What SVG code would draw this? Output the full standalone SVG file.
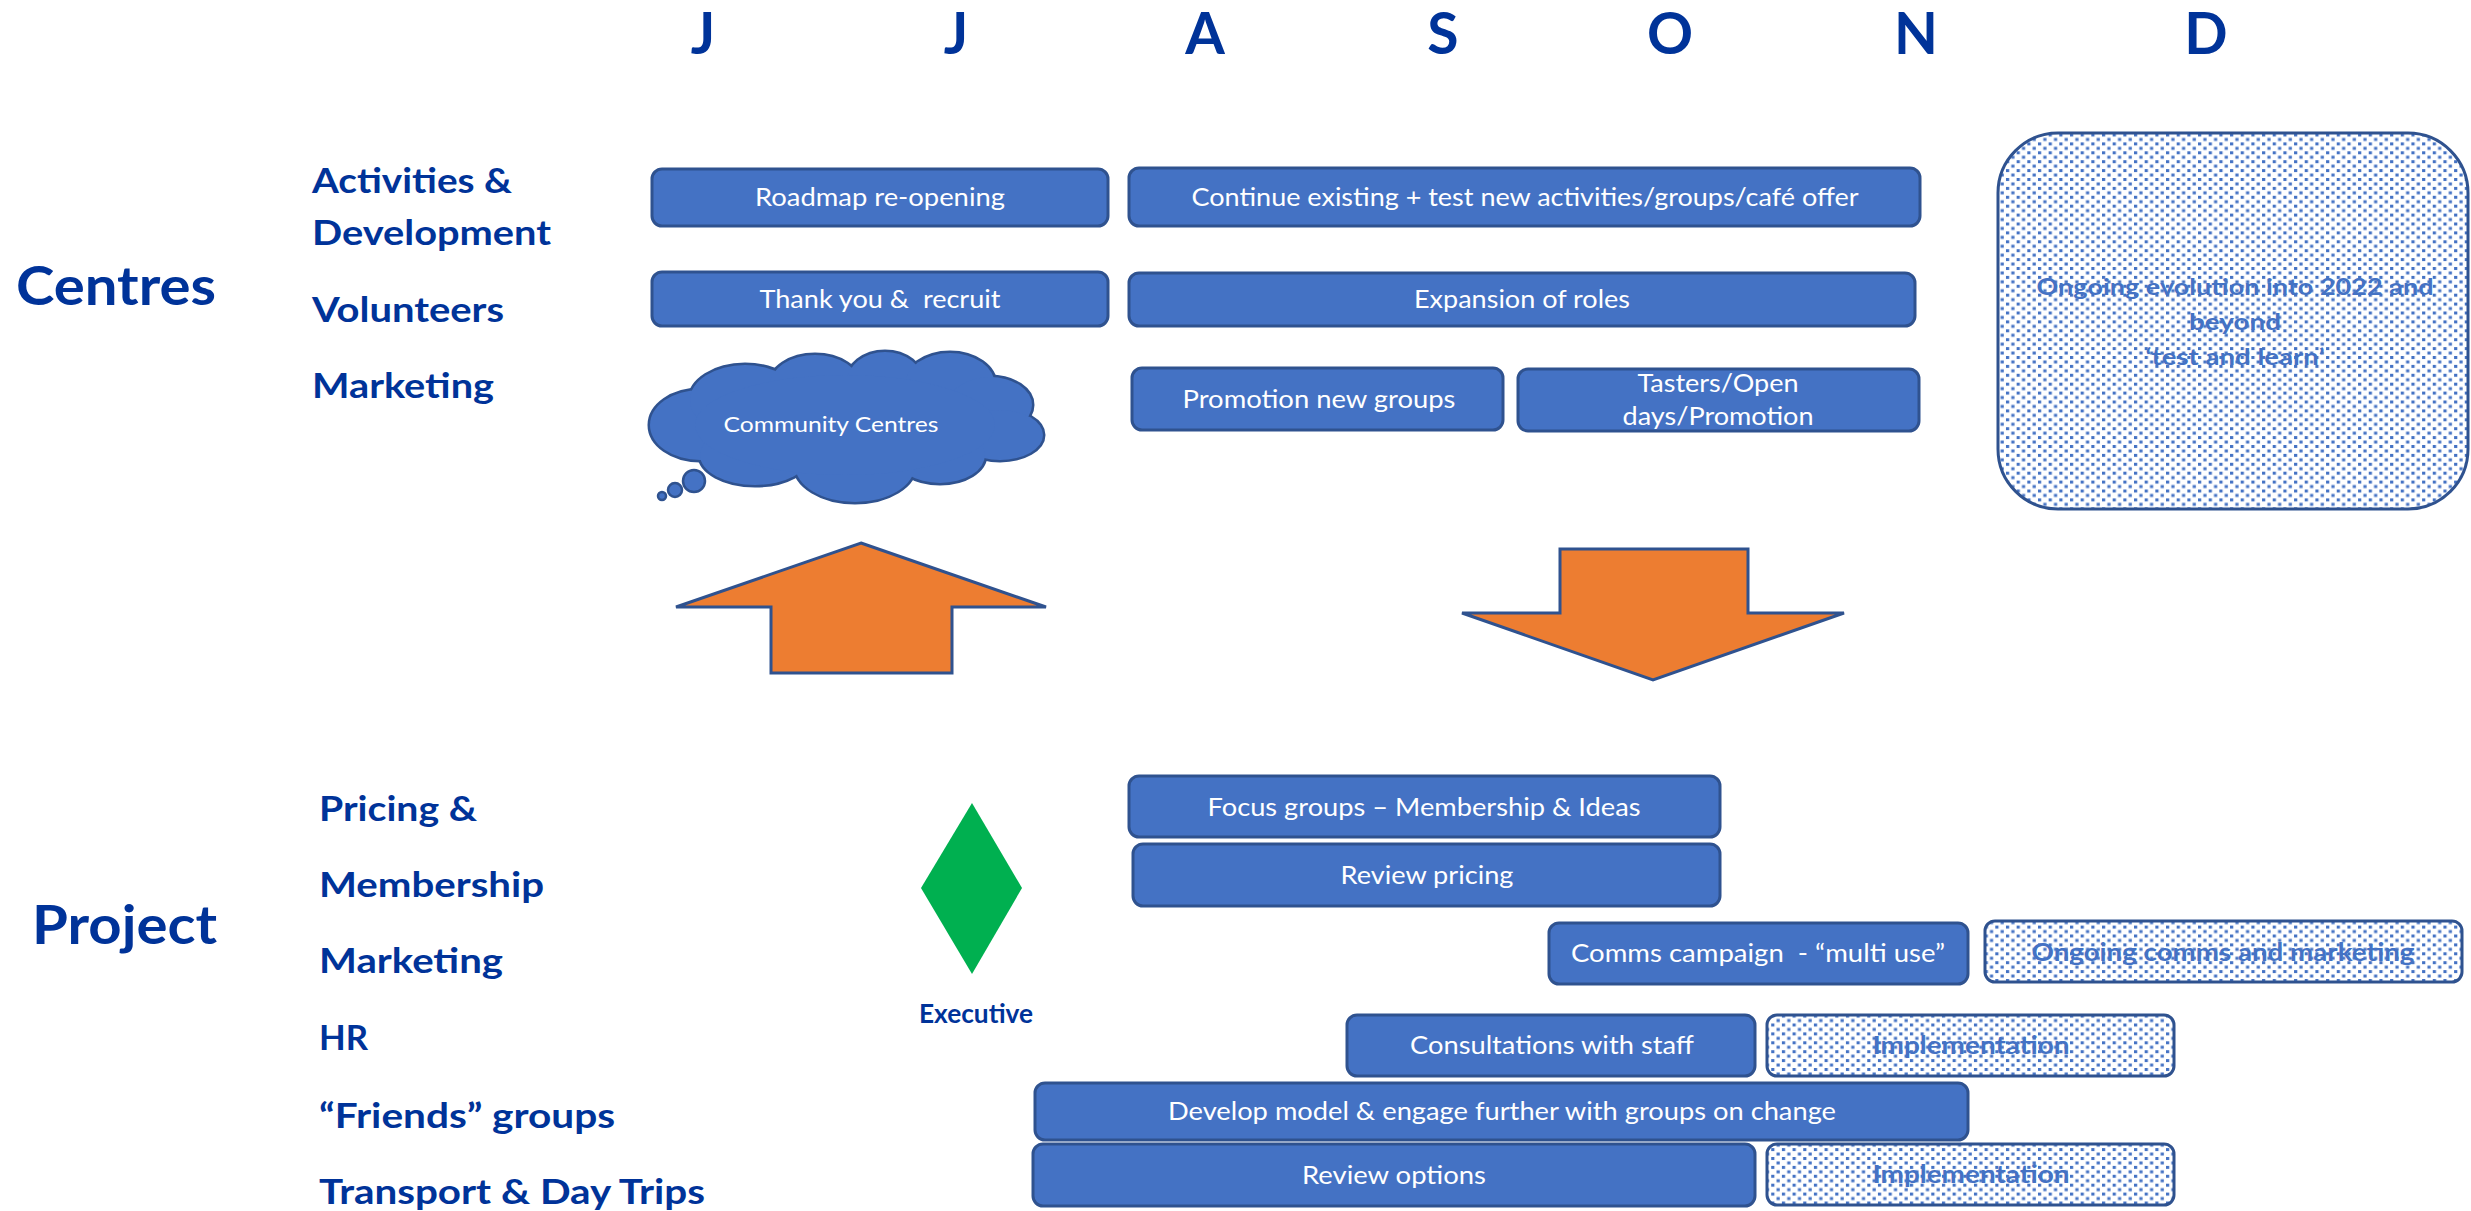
<svg xmlns="http://www.w3.org/2000/svg" width="2471" height="1211" viewBox="0 0 2471 1211">
<style>
.hd{font-family:Lato,"Liberation Sans",sans-serif;font-weight:bold;fill:#003399}
.mo{font-size:57px;text-anchor:middle}
.big{font-size:54px}
.sub{font-size:35px}
.box{fill:#4472C4;stroke:#2F528F;stroke-width:3}
.dot{fill:url(#dots);stroke:#2F528F;stroke-width:3}
.bt{font-family:Lato,"Liberation Sans",sans-serif;font-size:25px;fill:#FFFFFF;text-anchor:middle}
.dt{font-family:Lato,"Liberation Sans",sans-serif;font-size:25px;font-weight:bold;fill:#4472C4;text-anchor:middle}
.arrow{fill:#ED7D31;stroke:#2F528F;stroke-width:3}
</style>
<defs>
<pattern id="dots" patternUnits="userSpaceOnUse" width="10.67" height="8.9">
<rect width="10.67" height="8.9" fill="#FFFFFF"/>
<rect x="0" y="0" width="3.2" height="3" fill="#4472C4"/>
<rect x="5.33" y="4.45" width="3.2" height="3" fill="#4472C4"/>
</pattern>
</defs>
<rect width="2471" height="1211" fill="#FFFFFF"/>

<g id="months" class="hd mo">
<text x="703" y="54">J</text>
<text x="956" y="54">J</text>
<text x="1205" y="54">A</text>
<text x="1443" y="54">S</text>
<text x="1670" y="54">O</text>
<text x="1916" y="54">N</text>
<text x="2206" y="54">D</text>
</g>

<g id="row-labels" class="hd">
<text class="big" x="16" y="305" textLength="200" lengthAdjust="spacingAndGlyphs">Centres</text>
<text class="sub" x="312" y="193" textLength="200" lengthAdjust="spacingAndGlyphs">Activities &amp;</text>
<text class="sub" x="312" y="245" textLength="239" lengthAdjust="spacingAndGlyphs">Development</text>
<text class="sub" x="312" y="322" textLength="192" lengthAdjust="spacingAndGlyphs">Volunteers</text>
<text class="sub" x="312" y="398" textLength="182" lengthAdjust="spacingAndGlyphs">Marketing</text>
<text class="big" x="32" y="944" textLength="185" lengthAdjust="spacingAndGlyphs">Project</text>
<text class="sub" x="319" y="821" textLength="158" lengthAdjust="spacingAndGlyphs">Pricing &amp;</text>
<text class="sub" x="319" y="897" textLength="225" lengthAdjust="spacingAndGlyphs">Membership</text>
<text class="sub" x="319" y="973" textLength="184" lengthAdjust="spacingAndGlyphs">Marketing</text>
<text class="sub" x="319" y="1050" textLength="49" lengthAdjust="spacingAndGlyphs">HR</text>
<text class="sub" x="319" y="1128" textLength="296" lengthAdjust="spacingAndGlyphs">“Friends” groups</text>
<text class="sub" x="319" y="1204" textLength="386" lengthAdjust="spacingAndGlyphs">Transport &amp; Day Trips</text>
</g>

<g id="roadmap">
<rect class="box" x="652" y="169" width="456" height="57" rx="10"/>
<text class="bt" x="880" y="206" textLength="250" lengthAdjust="spacingAndGlyphs">Roadmap re-opening</text>
</g>
<g id="continue">
<rect class="box" x="1129" y="168" width="791" height="58" rx="10"/>
<text class="bt" x="1525" y="206" textLength="667" lengthAdjust="spacingAndGlyphs">Continue existing + test new activities/groups/café offer</text>
</g>
<g id="thankyou">
<rect class="box" x="652" y="272" width="456" height="54" rx="10"/>
<text class="bt" x="880" y="308" textLength="241" lengthAdjust="spacingAndGlyphs" xml:space="preserve">Thank you &amp;  recruit</text>
</g>
<g id="expansion">
<rect class="box" x="1129" y="273" width="786" height="53" rx="10"/>
<text class="bt" x="1522" y="308" textLength="216" lengthAdjust="spacingAndGlyphs">Expansion of roles</text>
</g>
<g id="promotion">
<rect class="box" x="1132" y="368" width="371" height="62" rx="10"/>
<text class="bt" x="1319" y="408" textLength="273" lengthAdjust="spacingAndGlyphs">Promotion new groups</text>
</g>
<g id="tasters">
<rect class="box" x="1518" y="369" width="401" height="62" rx="10"/>
<text class="bt" x="1718" y="392" textLength="161" lengthAdjust="spacingAndGlyphs">Tasters/Open</text>
<text class="bt" x="1718" y="425" textLength="191" lengthAdjust="spacingAndGlyphs">days/Promotion</text>
</g>

<g id="cloud">
<g fill="#2F528F" stroke="#2F528F" stroke-width="5">
<ellipse cx="700" cy="425" rx="50" ry="35"/>
<ellipse cx="745" cy="400" rx="55" ry="35"/>
<ellipse cx="815" cy="385" rx="45" ry="30"/>
<ellipse cx="885" cy="382" rx="38" ry="30"/>
<ellipse cx="950" cy="385" rx="45" ry="32"/>
<ellipse cx="990" cy="405" rx="42" ry="28"/>
<ellipse cx="1000" cy="435" rx="43" ry="25"/>
<ellipse cx="940" cy="455" rx="45" ry="28"/>
<ellipse cx="855" cy="465" rx="60" ry="37"/>
<ellipse cx="755" cy="455" rx="55" ry="30"/>
<ellipse cx="845" cy="425" rx="150" ry="50"/>
</g>
<g fill="#4472C4">
<ellipse cx="700" cy="425" rx="50" ry="35"/>
<ellipse cx="745" cy="400" rx="55" ry="35"/>
<ellipse cx="815" cy="385" rx="45" ry="30"/>
<ellipse cx="885" cy="382" rx="38" ry="30"/>
<ellipse cx="950" cy="385" rx="45" ry="32"/>
<ellipse cx="990" cy="405" rx="42" ry="28"/>
<ellipse cx="1000" cy="435" rx="43" ry="25"/>
<ellipse cx="940" cy="455" rx="45" ry="28"/>
<ellipse cx="855" cy="465" rx="60" ry="37"/>
<ellipse cx="755" cy="455" rx="55" ry="30"/>
<ellipse cx="845" cy="425" rx="150" ry="50"/>
</g>
<g fill="#4472C4" stroke="#2F528F" stroke-width="2.5">
<circle cx="694" cy="481" r="11"/>
<circle cx="675" cy="490" r="7"/>
<circle cx="662" cy="496" r="4"/>
</g>
<text class="bt" x="831" y="432" style="font-size:21px" textLength="215" lengthAdjust="spacingAndGlyphs">Community Centres</text>
</g>

<g id="ongoing-evolution">
<rect class="dot" x="1998" y="133" width="470" height="376" rx="60"/>
<text class="dt" x="2235" y="295" style="font-size:23px" textLength="397" lengthAdjust="spacingAndGlyphs">Ongoing evolution into 2022 and</text>
<text class="dt" x="2235" y="330" style="font-size:23px" textLength="92" lengthAdjust="spacingAndGlyphs">beyond</text>
<text class="dt" x="2235" y="365" style="font-size:23px" textLength="179" lengthAdjust="spacingAndGlyphs">‘test and learn’</text>
</g>

<g id="arrow-up">
<polygon class="arrow" points="861,543 1046,607 952,607 952,673 771,673 771,607 676,607"/>
</g>
<g id="arrow-down">
<polygon class="arrow" points="1560,549 1748,549 1748,613 1844,613 1653,680 1462,613 1560,613"/>
</g>

<g id="executive">
<polygon points="972,803 1022,888 972,974 921,888" fill="#00B050"/>
<text class="hd" x="976" y="1023" style="font-size:26px;text-anchor:middle" textLength="114" lengthAdjust="spacingAndGlyphs">Executive</text>
</g>

<g id="focus">
<rect class="box" x="1129" y="776" width="591" height="61" rx="10"/>
<text class="bt" x="1424" y="816" textLength="433" lengthAdjust="spacingAndGlyphs">Focus groups – Membership &amp; Ideas</text>
</g>
<g id="review-pricing">
<rect class="box" x="1133" y="844" width="587" height="62" rx="10"/>
<text class="bt" x="1427" y="884" textLength="173" lengthAdjust="spacingAndGlyphs">Review pricing</text>
</g>
<g id="comms">
<rect class="box" x="1549" y="923" width="419" height="61" rx="10"/>
<text class="bt" x="1758" y="962" textLength="374" lengthAdjust="spacingAndGlyphs" xml:space="preserve">Comms campaign  - “multi use”</text>
</g>
<g id="ongoing-comms">
<rect class="dot" x="1985" y="921" width="477" height="61" rx="10"/>
<text class="dt" x="2223" y="961" textLength="383" lengthAdjust="spacingAndGlyphs">Ongoing comms and marketing</text>
</g>
<g id="consultations">
<rect class="box" x="1347" y="1015" width="408" height="61" rx="10"/>
<text class="bt" x="1552" y="1054" textLength="284" lengthAdjust="spacingAndGlyphs">Consultations with staff</text>
</g>
<g id="implementation-hr">
<rect class="dot" x="1767" y="1015" width="407" height="61" rx="10"/>
<text class="dt" x="1971" y="1054" textLength="197" lengthAdjust="spacingAndGlyphs">Implementation</text>
</g>
<g id="develop">
<rect class="box" x="1035" y="1083" width="933" height="57" rx="10"/>
<text class="bt" x="1502" y="1120" textLength="668" lengthAdjust="spacingAndGlyphs">Develop model &amp; engage further with groups on change</text>
</g>
<g id="review-options">
<rect class="box" x="1033" y="1144" width="722" height="62" rx="10"/>
<text class="bt" x="1394" y="1184" textLength="184" lengthAdjust="spacingAndGlyphs">Review options</text>
</g>
<g id="implementation-transport">
<rect class="dot" x="1767" y="1144" width="407" height="61" rx="10"/>
<text class="dt" x="1971" y="1183" textLength="197" lengthAdjust="spacingAndGlyphs">Implementation</text>
</g>

<g id="connectors"></g>
</svg>
